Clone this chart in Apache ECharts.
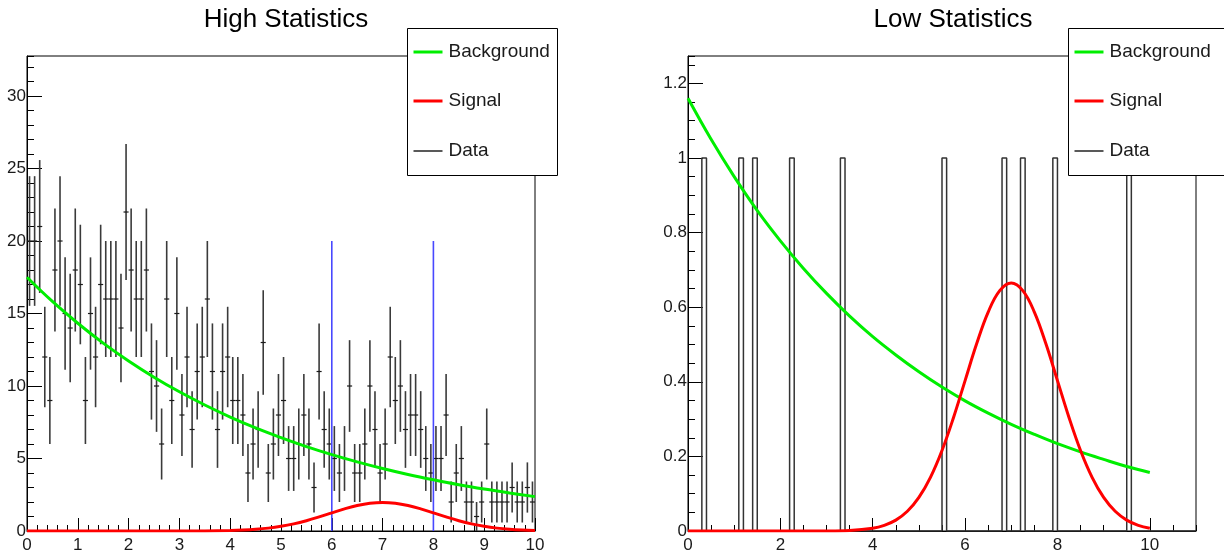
<!DOCTYPE html>
<html>
<head>
<meta charset="utf-8">
<script src="https://cdn.jsdelivr.net/npm/echarts@6/dist/echarts.min.js"></script>
<style>
html,body{margin:0;padding:0;background:#fff;}
#chart{width:1224px;height:558px;}
</style>
</head>
<body>
<div id="chart"></div>
<script>
// ---------------- data ----------------
// High statistics histogram: 100 bins on [0,10], counts per bin
const highBinStart = 0;
const highBinWidth = 0.1;
const highCounts = [
  20, 20, 21, 12, 9, 18, 20, 15, 14, 18,
  17, 9, 15, 12, 17, 16, 16, 16, 14, 22,
  18, 16, 16, 18, 11, 10, 6, 16, 9, 15,
  8, 12, 7, 11, 12, 16, 11, 7, 11, 12,
  9, 9, 8, 4, 6, 7, 13, 4, 6, 8,
  9, 5, 5, 6, 8, 6, 3, 11, 7, 6,
  5, 4, 5, 10, 4, 4, 6, 10, 7, 4,
  6, 12, 9, 10, 7, 8, 8, 7, 5, 4,
  5, 5, 8, 2, 4, 5, 2, 2, 1, 2,
  6, 2, 2, 2, 2, 3, 2, 2, 3, 2
];
// fitted curves, high statistics
const highBgX = [0,0.5,1,1.5,2,2.5,3,3.5,4,4.5,5,5.5,6,6.5,7,7.5,8,8.5,9,9.5,10];
const highBgY = [17.5,15.83,14.33,12.96,11.73,10.61,9.60,8.69,7.86,7.11,6.44,5.82,5.27,4.77,4.31,3.90,3.53,3.19,2.89,2.62,2.37];
const highSigX = [0,1,2,3,3.5,4,4.25,4.5,4.75,5,5.25,5.5,5.75,6,6.25,6.5,6.75,7,7.25,7.5,7.75,8,8.25,8.5,8.75,9,9.25,9.5,9.75,10];
const highSigY = [0,0,0,0.0014,0.0076,0.033,0.064,0.116,0.198,0.321,0.491,0.710,0.970,1.252,1.526,1.759,1.915,1.97,1.915,1.759,1.526,1.252,0.970,0.710,0.491,0.321,0.198,0.116,0.064,0.033];
// signal window markers
const markerX = [6, 8];
const markerTop = 20;

// Low statistics histogram: bins of width 0.1 that hold one entry
const lowBinWidth = 0.1;
const lowBinLow = [0.3, 1.1, 1.4, 2.2, 3.3, 5.5, 6.8, 7.2, 7.9, 9.5];
const lowBinCount = [1, 1, 1, 1, 1, 1, 1, 1, 1, 1];
const lowRange = [0, 11];
const lowBgX = [0,0.5,1,1.5,2,2.5,3,3.5,4,4.5,5,5.5,6,6.5,7,7.5,8,8.5,9,9.5,10];
const lowBgY = [1.160,1.050,0.950,0.859,0.778,0.704,0.637,0.576,0.521,0.472,0.427,0.386,0.349,0.316,0.286,0.259,0.234,0.212,0.192,0.173,0.157];
const lowSigX = [0,1,2,3,3.5,4,4.25,4.5,4.75,5,5.25,5.5,5.75,6,6.25,6.5,6.75,7,7.25,7.5,7.75,8,8.25,8.5,8.75,9,9.25,9.5,9.75,10];
const lowSigY = [0,0,0,0.0002,0.0015,0.0074,0.0152,0.0292,0.0529,0.0900,0.1439,0.2159,0.3044,0.4033,0.5019,0.5869,0.6445,0.665,0.6445,0.5869,0.5019,0.4033,0.3044,0.2159,0.1439,0.0900,0.0529,0.0292,0.0152,0.0074];

const titles = ['High Statistics', 'Low Statistics'];
const legendNames = ['Background', 'Signal', 'Data'];

// ---------------- build ----------------
const zip = (xs, ys) => xs.map((x, i) => [x, ys[i]]);
const highData = highCounts.map((n, i) => [highBinStart + (i + 0.5) * highBinWidth, n]);
const lowOutline = [[lowRange[0], 0]];
lowBinLow.forEach((lo, i) => {
  const c = lowBinCount[i];
  lowOutline.push([lo, 0], [lo, c], [lo + lowBinWidth, c], [lo + lowBinWidth, 0]);
});
lowOutline.push([lowRange[1], 0]);

const FONT = '"Liberation Sans", Arial, Helvetica, sans-serif';
const GREEN = '#00ee00', RED = '#ff0000', BLACK = '#000000';

const G0 = {left: 27, top: 56, width: 508, height: 475};
const G1 = {left: 688, top: 56, width: 508, height: 475};

function majorX(grid, max, interval, extra) {
  return Object.assign({
    type: 'value', gridIndex: grid, position: 'bottom', min: 0, max: max, interval: interval,
    axisLine: {show: true, onZero: false, lineStyle: {color: BLACK, width: 1}},
    axisTick: {show: true, inside: true, length: 13, lineStyle: {color: BLACK, width: 1}},
    axisLabel: {show: true, color: '#1a1a1a', fontFamily: FONT, fontSize: 17, margin: 6, showMaxLabel: true},
    splitLine: {show: false}
  }, extra || {});
}
function minorAxis(type, grid, max, interval, len, pos) {
  return {
    type: 'value', gridIndex: grid, position: pos, min: 0, max: max, interval: interval,
    axisLine: {show: false, onZero: false},
    axisTick: {show: true, inside: true, length: len, lineStyle: {color: BLACK, width: 1}},
    axisLabel: {show: false}, splitLine: {show: false}
  };
}
function majorY(grid, max, interval) {
  return {
    type: 'value', gridIndex: grid, position: 'left', min: 0, max: max, interval: interval,
    axisLine: {show: true, onZero: false, lineStyle: {color: BLACK, width: 1}},
    axisTick: {show: true, inside: true, length: 15, lineStyle: {color: BLACK, width: 1}},
    axisLabel: {show: true, color: '#1a1a1a', fontFamily: FONT, fontSize: 17, margin: 1, showMaxLabel: false},
    splitLine: {show: false}
  };
}

const yMaxHigh = 32.76, yMaxLow = 1.2735;

const option = {
  animation: false,
  backgroundColor: '#ffffff',
  title: [
    {text: titles[0], left: 281, top: 2, textAlign: 'center',
     textStyle: {fontFamily: FONT, fontSize: 26, fontWeight: 'normal', color: '#000'}},
    {text: titles[1], left: 948, top: 2, textAlign: 'center',
     textStyle: {fontFamily: FONT, fontSize: 26, fontWeight: 'normal', color: '#000'}}
  ],
  grid: [
    Object.assign({show: true, borderColor: BLACK, borderWidth: 1, backgroundColor: 'transparent'}, G0),
    Object.assign({show: true, borderColor: BLACK, borderWidth: 1, backgroundColor: 'transparent'}, G1)
  ],
  xAxis: [
    majorX(0, 10, 1, {minorTick: {show: true, splitNumber: 5, length: 6, lineStyle: {color: BLACK, width: 1}}}),
    majorX(1, lowRange[1], 2, {axisLabel: {show: true, color: '#1a1a1a', fontFamily: FONT, fontSize: 17, margin: 6, showMaxLabel: false}}),
    minorAxis('x', 1, lowRange[1], 0.5, 6, 'bottom')
  ],
  yAxis: [
    majorY(0, yMaxHigh, 5),
    minorAxis('y', 0, yMaxHigh, 1, 7, 'left'),
    majorY(1, yMaxLow, 0.2),
    minorAxis('y', 1, yMaxLow, 0.05, 7, 'left')
  ],
  series: [
    {
      name: 'Data', type: 'custom', xAxisIndex: 0, yAxisIndex: 0, data: highData,
      encode: {x: 0, y: 1}, z: 2,
      renderItem: function (params, api) {
        const x = api.value(0), n = api.value(1), e = Math.sqrt(n);
        const a = api.coord([x, n - e]), b = api.coord([x, n + e]);
        const l = api.coord([x - highBinWidth / 2, n]), r = api.coord([x + highBinWidth / 2, n]);
        const st = {stroke: '#3a3a3a', lineWidth: 1.6};
        return {type: 'group', children: [
          {type: 'line', shape: {x1: a[0], y1: a[1], x2: b[0], y2: b[1]}, style: st},
          {type: 'line', shape: {x1: l[0], y1: l[1], x2: r[0], y2: r[1]}, style: {stroke: '#1a1a1a', lineWidth: 1.2}}
        ]};
      }
    },
    {
      name: 'Window6', type: 'line', xAxisIndex: 0, yAxisIndex: 0, symbol: 'none', z: 3,
      data: [[markerX[0], 0], [markerX[0], markerTop]],
      lineStyle: {color: '#4848ff', width: 1.6}
    },
    {
      name: 'Window8', type: 'line', xAxisIndex: 0, yAxisIndex: 0, symbol: 'none', z: 3,
      data: [[markerX[1], 0], [markerX[1], markerTop]],
      lineStyle: {color: '#4848ff', width: 1.6}
    },
    {
      name: 'Background', type: 'line', xAxisIndex: 0, yAxisIndex: 0, symbol: 'none', smooth: 0.4, z: 4,
      data: zip(highBgX, highBgY), lineStyle: {color: GREEN, width: 3}
    },
    {
      name: 'Signal', type: 'line', xAxisIndex: 0, yAxisIndex: 0, symbol: 'none', smooth: 0.4, z: 4,
      data: zip(highSigX, highSigY), lineStyle: {color: RED, width: 3}
    },
    {
      name: 'DataLow', type: 'line', xAxisIndex: 1, yAxisIndex: 2, symbol: 'none', z: 2,
      data: lowOutline, lineStyle: {color: '#333', width: 1.5}
    },
    {
      name: 'BackgroundLow', type: 'line', xAxisIndex: 1, yAxisIndex: 2, symbol: 'none', smooth: 0.4, z: 4,
      data: zip(lowBgX, lowBgY), lineStyle: {color: GREEN, width: 3}
    },
    {
      name: 'SignalLow', type: 'line', xAxisIndex: 1, yAxisIndex: 2, symbol: 'none', smooth: 0.4, z: 4,
      data: zip(lowSigX, lowSigY), lineStyle: {color: RED, width: 3}
    }
  ],
  graphic: []
};

function legendBox(x, y, w, h) {
  const colors = [GREEN, RED, '#222'];
  const widths = [3, 3, 1.5];
  const rows = [52, 101, 151];
  const els = [{type: 'rect', shape: {x: x, y: y, width: w, height: h},
    style: {fill: '#fff', stroke: BLACK, lineWidth: 1}, z: 100}];
  rows.forEach((ry, i) => {
    els.push({type: 'line', shape: {x1: x + 6, y1: ry, x2: x + 35, y2: ry},
      style: {stroke: colors[i], lineWidth: widths[i]}, z: 101});
    els.push({type: 'text', x: x + 41, y: ry,
      style: {text: legendNames[i], fill: '#1a1a1a', font: '19px ' + FONT, textVerticalAlign: 'middle', textAlign: 'left'}, z: 101});
  });
  return els;
}
option.graphic = legendBox(407.5, 28.5, 150, 147).concat(legendBox(1068.5, 28.5, 170, 147));

const chart = echarts.init(document.getElementById('chart'), null, {renderer: 'canvas'});
chart.setOption(option);
</script>
</body>
</html>
